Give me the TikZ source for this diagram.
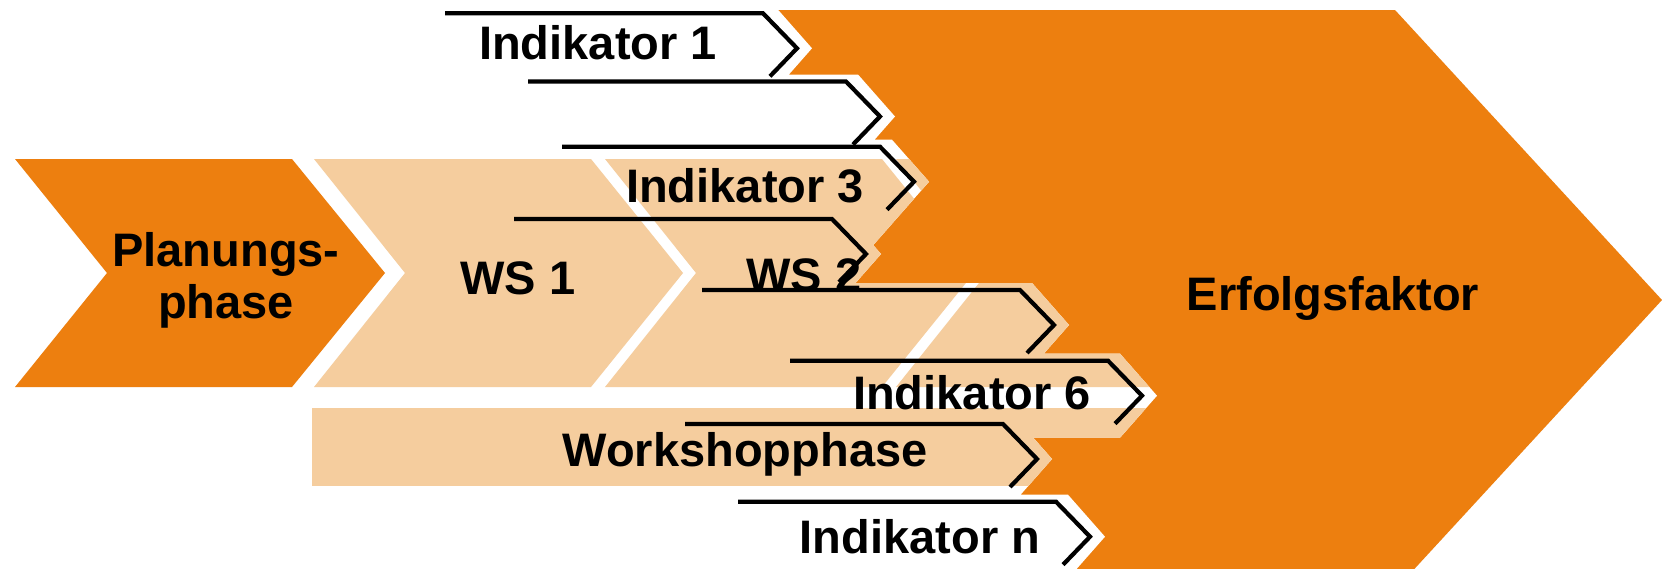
\documentclass[tikz,border=0pt]{standalone}
\usepackage{fontspec}
\setmainfont{Liberation Sans}
\definecolor{orangeF}{RGB}{237,127,15}
\definecolor{peachF}{RGB}{245,205,158}
\newcommand{\drawbg}{%
  \fill[white] (-10,-10) rectangle (1672,600);
  \fill[orangeF] (15,159) -- (292,159) -- (385,273) -- (292,387) -- (15,387) -- (107,273) -- cycle;
  \foreach \dx in {0,291,582} {
    \fill[peachF] ({314+\dx},159) -- ({591+\dx},159) -- ({683+\dx},273) -- ({591+\dx},387) -- ({314+\dx},387) -- ({405+\dx},273) -- cycle;
  }
  \fill[peachF] (312,408) rectangle (1250,486);
}
\begin{document}
\begin{tikzpicture}[x=1pt,y=-1pt,
  lbl/.style={font=\fontsize{47}{52}\selectfont\bfseries, inner sep=0pt, anchor=base},
  indline/.style={line width=4.2pt, line join=miter, black}]
\useasboundingbox (0,0) rectangle (1662,568);
\begin{scope}
  \clip (0,0) rectangle (1662,568);
  \drawbg
  % Erfolgsfaktor chevron
  \fill[orangeF] (300,10) -- (1395,10) -- (1662,300) -- (1395,590) -- (300,590) -- cycle;
  % indicator regions reveal the background again
  \begin{scope}
    \clip \foreach \cx/\ty/\bd in {763/13.3/77, 846/81.5/77, 880/146.7/105, 832/219/77, 1020/290/77, 1108/360.7/77, 1003/424/77, 1056/501.7/77}
      { (-10,\ty-7) -- (\cx+12,\ty-7) -- (\cx+49,\ty+35) -- ({\cx+49-(\bd-35)*0.88},\ty+\bd) -- (-10,\ty+\bd) -- cycle };
    \drawbg
  \end{scope}
\end{scope}
% labels
\node[lbl] (plan1) at (226,266) {Planungs-};
\node[lbl] (plan2) at (226,318) {phase};
\node[lbl] (ws1) at (518,294) {WS 1};
\node[lbl] (ws2) at (804,291) {WS 2};
\node[lbl] (work) at (745,466) {Workshopphase};
\node[lbl] (erf) at (1333,310) {Erfolgsfaktor};
\node[lbl] (ind1) at (598,59) {Indikator 1};
\node[lbl] (ind3) at (745,202) {Indikator 3};
\node[lbl] (ind6) at (972,409) {Indikator 6};
\node[lbl] (indn) at (920,553) {Indikator n};
% indicator lines
\foreach \cx/\ty in {763/13.3, 846/81.5, 880/146.7, 832/219, 1020/290, 1108/360.7, 1003/424, 1056/501.7}
  \draw[indline] (\cx-318,\ty) -- (\cx,\ty) -- (\cx+34,\ty+35) -- (\cx+7,\ty+63);
\end{tikzpicture}
\end{document}
